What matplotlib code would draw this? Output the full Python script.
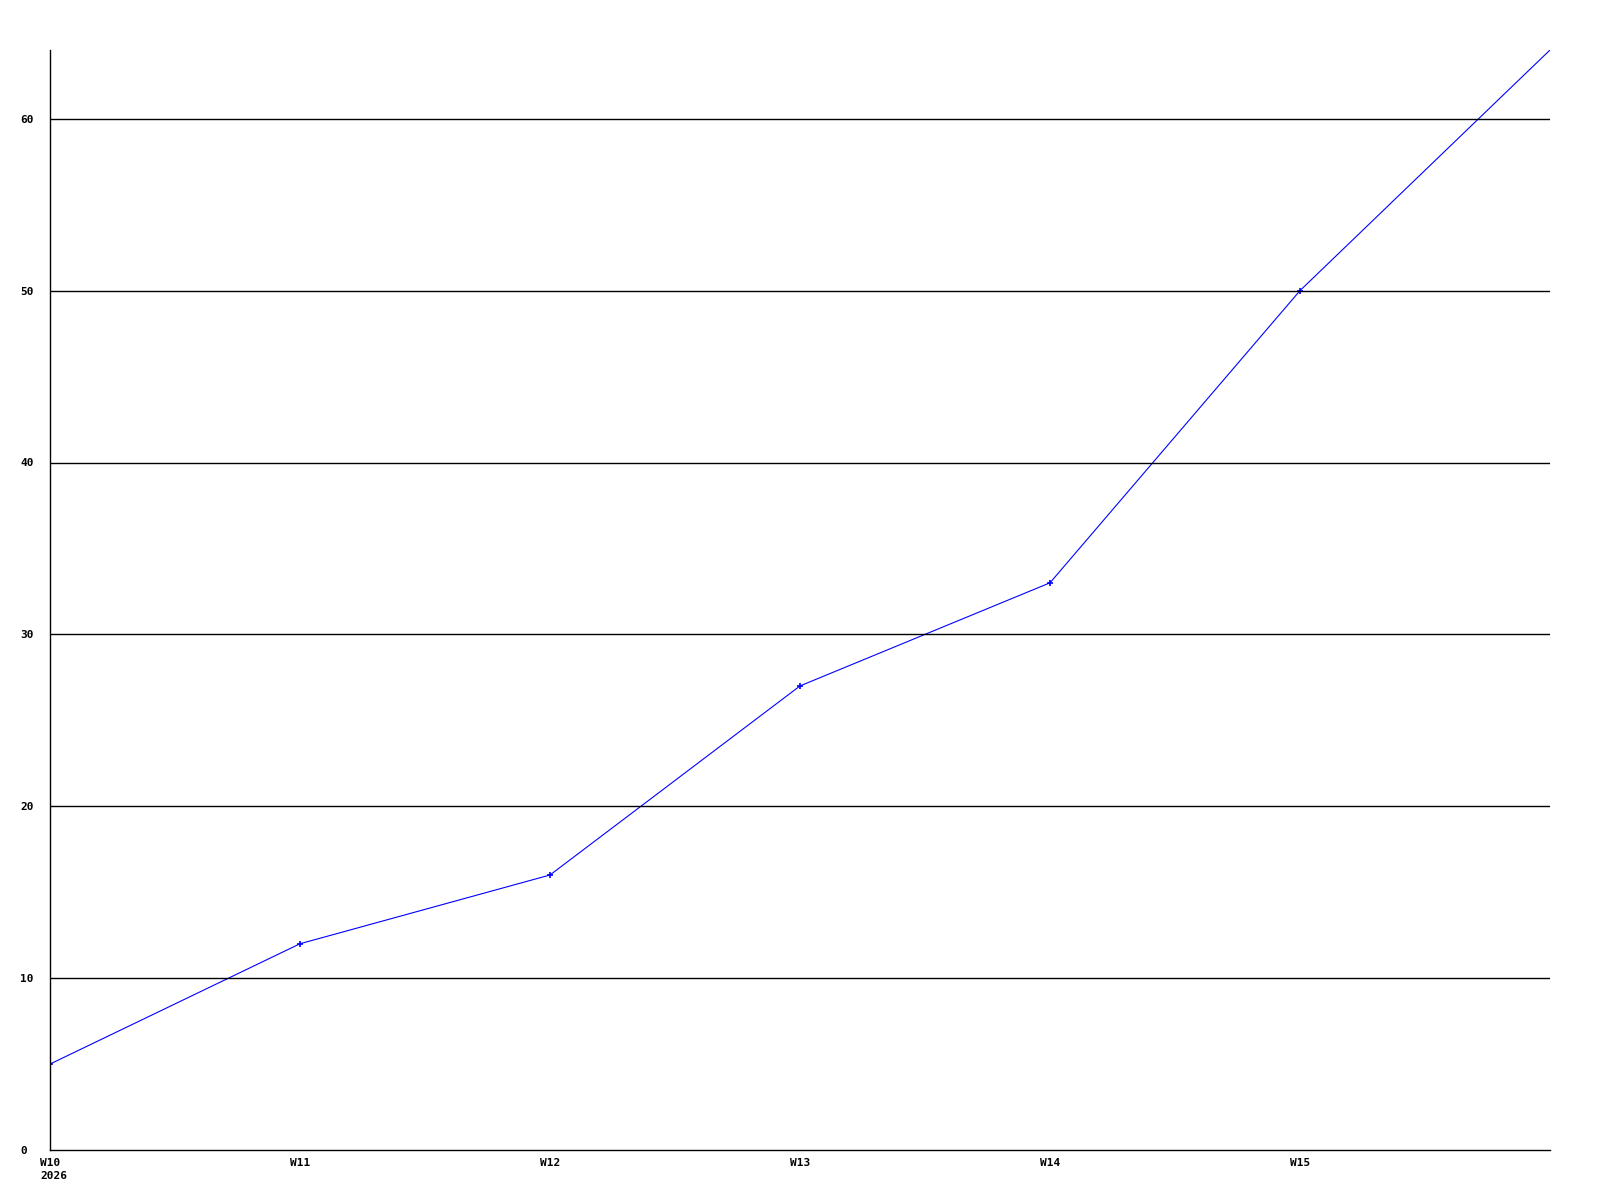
import matplotlib
matplotlib.use('Agg')
import matplotlib.pyplot as plt

weeks = ['W10\n2026', 'W11', 'W12', 'W13', 'W14', 'W15']
values = [5, 12, 16, 27, 33, 50, 64]
yticks = [0, 10, 20, 30, 40, 50, 60]

plt.rcParams['font.family'] = 'DejaVu Sans Mono'
plt.rcParams['font.weight'] = 'bold'
plt.rcParams['font.size'] = 8

fig = plt.figure(figsize=(16, 12), dpi=100)
ax = fig.add_axes([50/1600, 50/1200, 1500/1600, 1100/1200])

x = list(range(len(values)))
ax.plot(x, values, color='#0000ff', lw=0.8, marker='+', markersize=4, mew=1.2,
        markevery=list(range(len(values) - 1)))

ax.set_xlim(0, 6)
ax.set_ylim(0, 64)
ax.set_yticks(yticks)
ax.set_yticklabels([str(v) for v in yticks])
for t in ax.get_yticklabels():
    t.set_horizontalalignment('left')
ax.tick_params(axis='y', length=0, pad=21.6)

# x labels: left edge ~10px left of the tick, lines left-aligned
ax.set_xticks(range(len(weeks)))
ax.set_xticklabels([])
ax.tick_params(axis='x', length=0)
for i, w in enumerate(weeks):
    ax.annotate(w, xy=(i, 0), xycoords=('data', 'axes fraction'),
                xytext=(-10, -8), textcoords='offset pixels',
                ha='left', va='top', linespacing=1.35, annotation_clip=False)

for v in yticks[1:]:
    ax.axhline(v, color='black', lw=1)

ax.spines['top'].set_visible(False)
ax.spines['right'].set_visible(False)
ax.spines['left'].set_linewidth(1)
ax.spines['bottom'].set_linewidth(1)

fig.savefig('out.png', dpi=100)
